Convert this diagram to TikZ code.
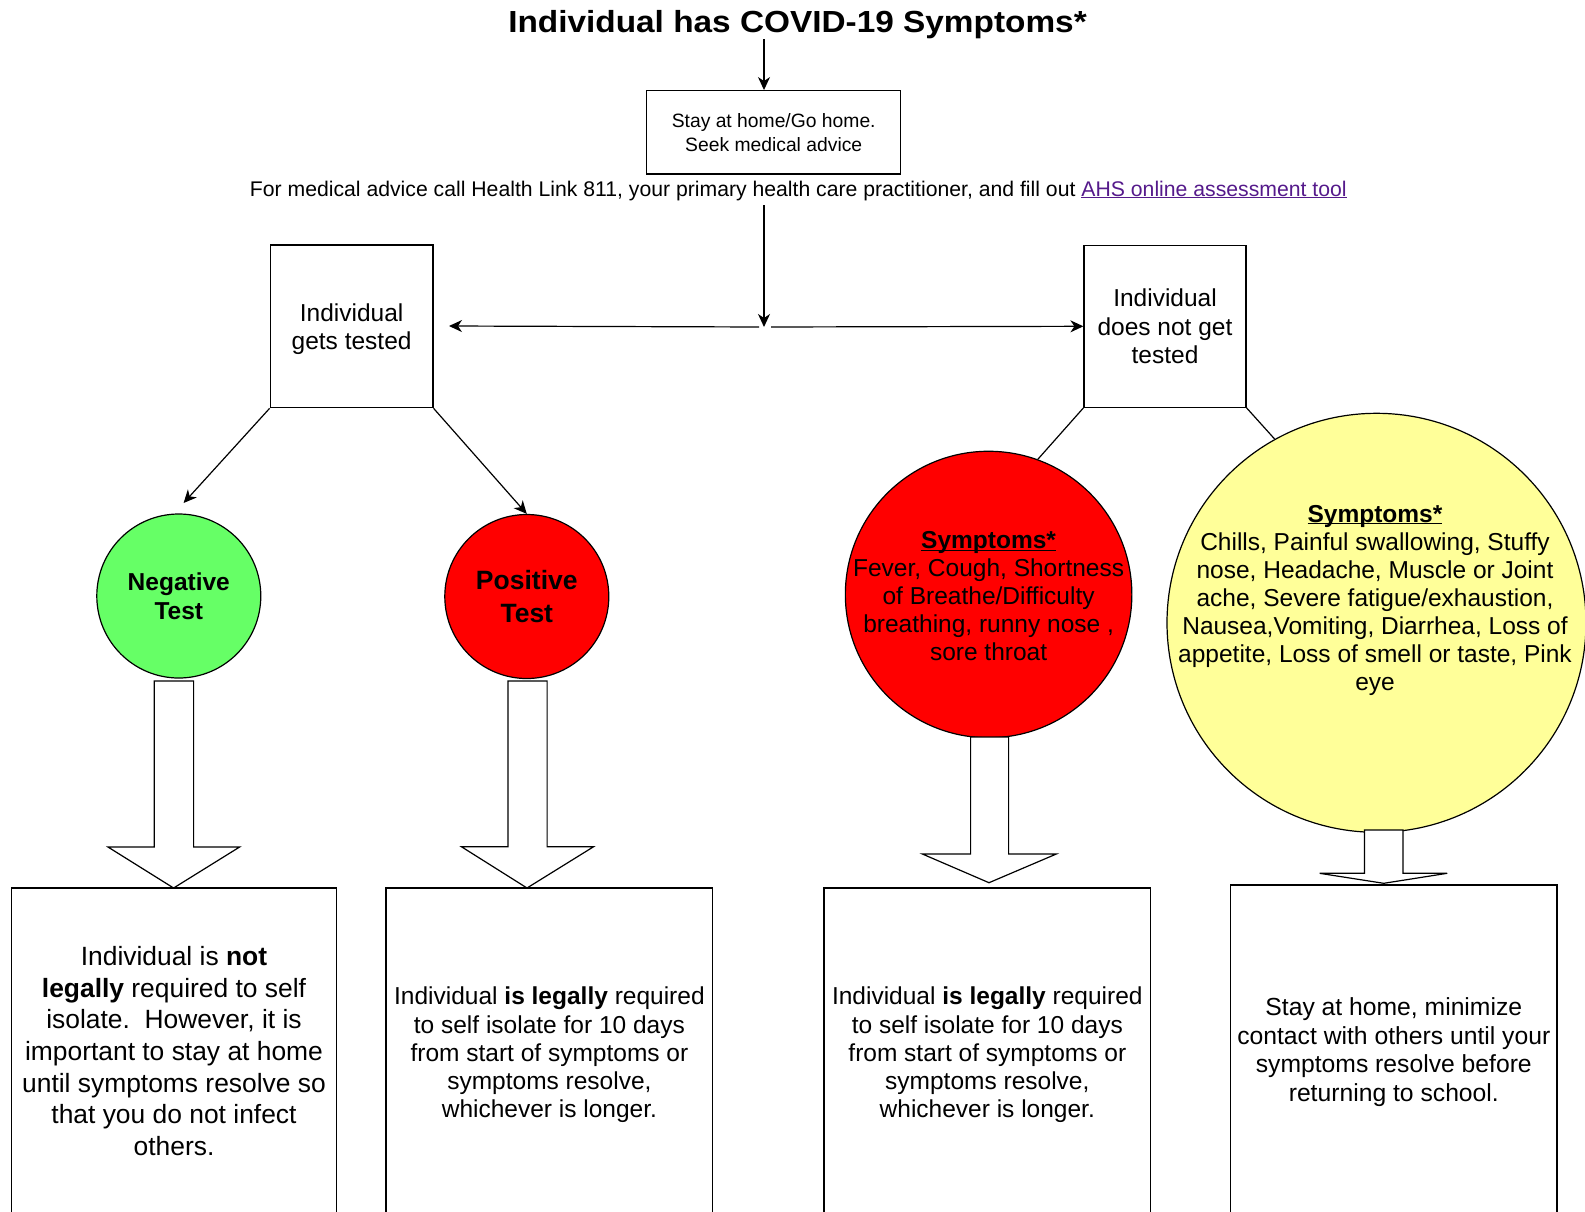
\documentclass[tikz,border=0pt]{standalone}
\usepackage{fontspec}
\setmainfont{Liberation Sans}
\newfontfamily\titlefont[FakeStretch=1.094]{Liberation Sans}
\usepackage{xcolor}
\usetikzlibrary{arrows.meta,calc}
\definecolor{neggreen}{HTML}{66FF66}
\definecolor{posred}{HTML}{FF0000}
\definecolor{symyellow}{HTML}{FFFF99}
\definecolor{linkpurple}{HTML}{551A8B}

\begin{document}
\begin{tikzpicture}[x=1pt,y=-1pt,
	every node/.style={inner sep=0pt},
	box/.style={draw, line width=1.2pt, rectangle, align=center},
	disc/.style={draw, line width=1.2pt, circle, align=center},
	arr/.style={line width=1.2pt, -{Stealth[length=13pt,width=12pt,inset=4pt]}},
	link/.style={line width=1.2pt},
	blk/.style={draw, line width=1.2pt, fill=white, line join=miter},
	txt/.style={align=center},
	mid/.style={font=\fontsize{24.5}{28.3}\selectfont}]
			\useasboundingbox (0,0) rectangle (1585,1211);

			\node[anchor=base, font={\titlefont\bfseries\fontsize{30.5}{36}\selectfont}](title) at (797.5,32.5) {Individual has COVID-19 Symptoms*};
			\coordinate (jn) at (764,327);
			\node[box, minimum width=254, minimum height=83.3, text depth=-10pt, font=\fontsize{19.3}{24.5}\selectfont](stay) at (773.7,132.3) {Stay at home/Go home.\\ Seek medical advice};
			\node[anchor=base, inner sep=4.5pt, font=\fontsize{21.2}{25}\selectfont](advice) at (798.3,196) {For medical advice call Health Link 811, your primary health care practitioner, and fill out \textcolor{linkpurple}{\underline{AHS online assessment tool}}};

			\node[box, mid, minimum width=162.8, minimum height=162.7, text depth=-3pt](gt) at (351.6,326.4) {Individual\\ gets tested};
			\node[box, mid, minimum width=162, minimum height=162](dnt) at (1165,326.3) {Individual\\ does not get\\ tested};
			\coordinate (gtin) at (449,326);

			\node[disc, fill=neggreen, minimum size=164, text depth=-8pt, font=\bfseries\fontsize{24.5}{28.6}\selectfont](neg) at (178.8,596) {Negative\\ Test};
			\node[disc, fill=posred, minimum size=164, font=\bfseries\fontsize{26.5}{32.6}\selectfont](pos) at (526.8,596.5) {Positive\\ Test};
			\coordinate (negin) at (183.6,503);

			\node[disc, fill=posred, minimum size=286.5](redc) at (988.6,594.5) {};
			\node[txt, font=\fontsize{24.5}{28}\selectfont](redtxt) at (988.6,605) {\underline{\smash{\textbf{Symptoms*}}}\\ Fever, Cough, Shortness\\ of Breathe/Difficulty\\ breathing, runny nose ,\\ sore throat};
			\node[disc, fill=symyellow, minimum size=419](yelc) at (1376.5,622.8) {};
			\node[txt, font=\fontsize{24.5}{28.1}\selectfont](yeltxt) at (1375,609) {\underline{\smash{\textbf{Symptoms*}}}\\ Chills, Painful swallowing, Stuffy\\ nose, Headache, Muscle or Joint\\ ache, Severe fatigue/exhaustion,\\ Nausea,Vomiting, Diarrhea, Loss of\\ appetite, Loss of smell or taste, Pink\\ eye};

			\node[box, minimum width=325.5, minimum height=326, font=\fontsize{26.4}{31.7}\selectfont](res1) at (174,1051) {Individual is \textbf{not}\\ \textbf{legally} required to self\\ isolate.\ \ However, it is\\ important to stay at home\\ until symptoms resolve so\\ that you do not infect\\ others.};
			\node[box, mid, minimum width=326.8, minimum height=334](res2) at (549.4,1055) {Individual \textbf{is legally} required\\ to self isolate for 10 days\\ from start of symptoms or\\ symptoms resolve,\\ whichever is longer.};
			\node[box, mid, minimum width=326.5, minimum height=334](res3) at (987.3,1055) {Individual \textbf{is legally} required\\ to self isolate for 10 days\\ from start of symptoms or\\ symptoms resolve,\\ whichever is longer.};
			\node[box, minimum width=326.4, minimum height=334, font=\fontsize{24.7}{28.4}\selectfont](res4) at (1393.8,1052) {Stay at home, minimize\\ contact with others until your\\ symptoms resolve before\\ returning to school.};

			\draw[arr] (title.south -| jn) -- (stay.north -| jn);
			\draw[arr] (advice.south -| jn) -- (jn);
			\draw[arr, shorten <=5pt] (jn) -- (gtin);
			\draw[arr, shorten <=7pt] (jn) -- (dnt.west);
			\draw[arr] (gt.south west) -- (negin);
			\draw[arr] (gt.south east) -- (pos.north);
			\draw[link] (dnt.south west) -- (redc.70);
			\draw[link] (dnt.south east) -- (yelc.119);

			\draw[blk] (154.3,681) -- (154.3,847) -- (108,847) -- (173.6,888) -- (239.6,847) -- (193.6,847) -- (193.6,681) -- cycle;
			\draw[blk] (507.9,681) -- (507.9,846.7) -- (461.4,846.7) -- (527,888) -- (593.6,846.7) -- (547.1,846.7) -- (547.1,681) -- cycle;
			\draw[blk] (970.6,737) -- (970.6,854) -- (922.4,854) -- (989,882.7) -- (1056.3,854) -- (1008.6,854) -- (1008.6,737) -- cycle;
			\draw[blk] (1364.4,830) -- (1364.4,873.3) -- (1319.6,873.3) -- (1383.7,883.3) -- (1447.2,873.3) -- (1403,873.3) -- (1403,830) -- cycle;
		\end{tikzpicture}
\end{document}
